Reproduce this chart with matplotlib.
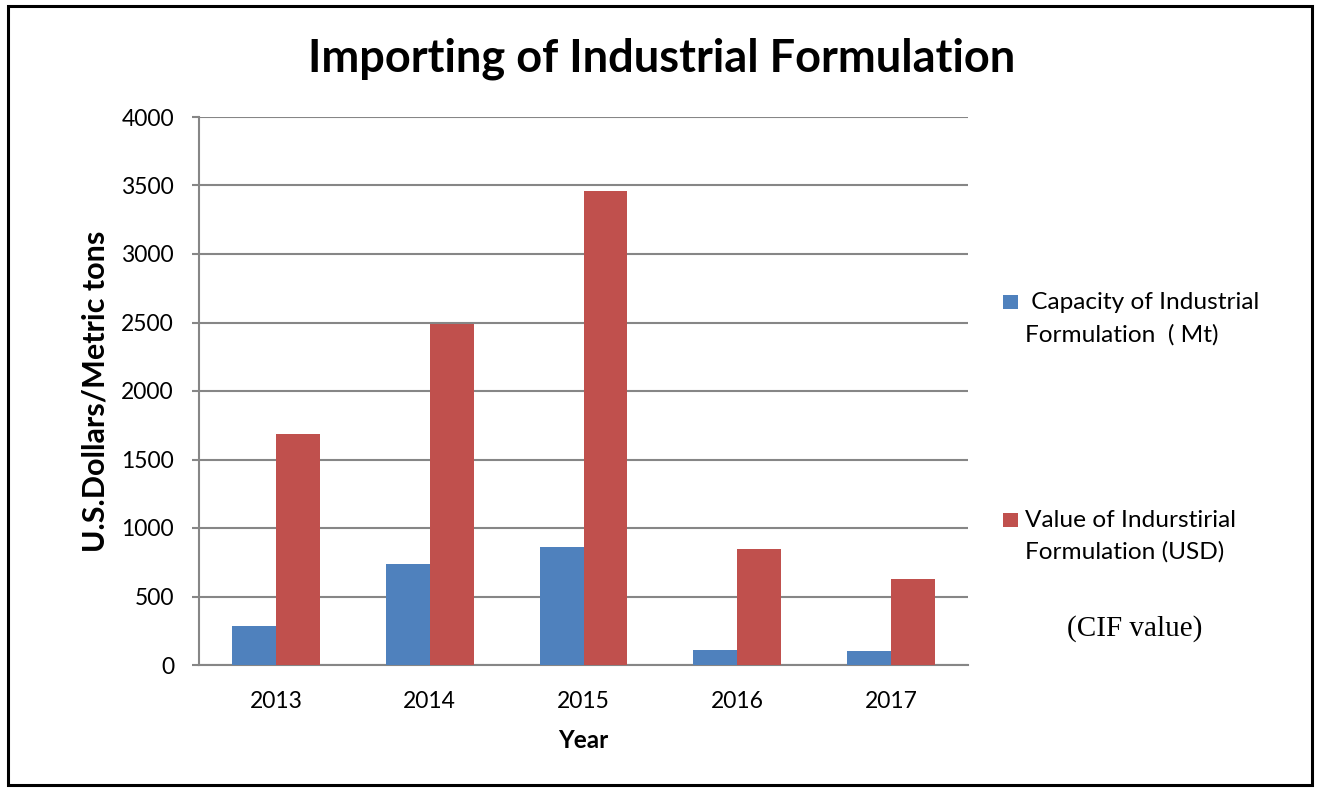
import matplotlib
matplotlib.use("Agg")
import matplotlib.pyplot as plt
from matplotlib.patches import Rectangle
import numpy as np

years = ["2013", "2014", "2015", "2016", "2017"]
capacity_mt = [283, 738, 864, 107, 104]
value_usd = [1688, 2489, 3458, 844, 630]
series_labels = [(" Capacity of Industrial", "Formulation  ( Mt)"),
                 ("Value of Indurstirial", "Formulation (USD)")]
y_ticks = [0, 500, 1000, 1500, 2000, 2500, 3000, 3500, 4000]

BLUE = "#4F81BD"
RED = "#C0504D"
GRID = "#868686"
FONT = "Lato"

W, H = 1317, 789
fig = plt.figure(figsize=(W / 100, H / 100), dpi=100)
plt.rcParams['font.family'] = [FONT, 'DejaVu Sans']

def fx(px):
    return px / W

def fy(py):
    return 1 - py / H

ax = fig.add_axes([fx(199), fy(665), fx(968) - fx(199), fy(117) - fy(665)])

x = np.arange(len(years))
bw = 0.286
ax.bar(x - bw / 2, capacity_mt, width=bw, color=BLUE, linewidth=0, zorder=3)
ax.bar(x + bw / 2, value_usd, width=bw, color=RED, linewidth=0, zorder=3)

ax.set_xlim(-0.5, len(years) - 0.5)
ax.set_ylim(0, 4000)
ax.set_yticks(y_ticks)
ax.set_yticklabels([str(v) for v in y_ticks])
ax.set_xticks(x)
ax.set_xticklabels(years)
ax.yaxis.grid(True, color=GRID, linewidth=1.5, zorder=0)
ax.set_axisbelow(True)
for s in ["top", "right"]:
    ax.spines[s].set_visible(False)
for s in ["left", "bottom"]:
    ax.spines[s].set_color(GRID)
    ax.spines[s].set_linewidth(1.5)
ax.tick_params(axis="y", length=5, width=1.5, color=GRID, pad=13, labelsize=16.5)
ax.tick_params(axis="x", length=0, pad=19, labelsize=16.5)

# Title and axis labels
fig.text(fx(662), fy(72), "Importing of Industrial Formulation", ha="center",
         va="baseline", fontsize=32.5, fontweight="bold")
fig.text(fx(583), fy(748), "Year", ha="center", va="baseline",
         fontsize=17.5, fontweight="bold")
fig.text(fx(96), fy(391), "U.S.Dollars/Metric tons", ha="center", va="center",
         rotation=90, fontsize=22, fontweight="bold")

# Legend (manual, Excel style)
leg_y = [(295, 309, 341.7), (512.7, 526.7, 559)]
for (top, b1, b2), col, (l1, l2) in zip(leg_y, [BLUE, RED], series_labels):
    fig.patches.append(Rectangle((fx(1003), fy(top + 14)), fx(15), 14 / H,
                                 transform=fig.transFigure, facecolor=col,
                                 edgecolor="none"))
    fig.text(fx(1025), fy(b1), l1, ha="left", va="baseline", fontsize=17.6)
    fig.text(fx(1025), fy(b2), l2, ha="left", va="baseline", fontsize=17.6)

fig.text(fx(1135), fy(636), "(CIF value)", ha="center", va="baseline",
         fontsize=21, family=["Liberation Serif", "DejaVu Serif"])

# Outer border
fig.patches.append(Rectangle((fx(8), fy(785)), fx(1304), (785 - 6) / H,
                             transform=fig.transFigure, facecolor="none",
                             edgecolor="black", linewidth=2.2))

fig.savefig("out.png", dpi=100)
